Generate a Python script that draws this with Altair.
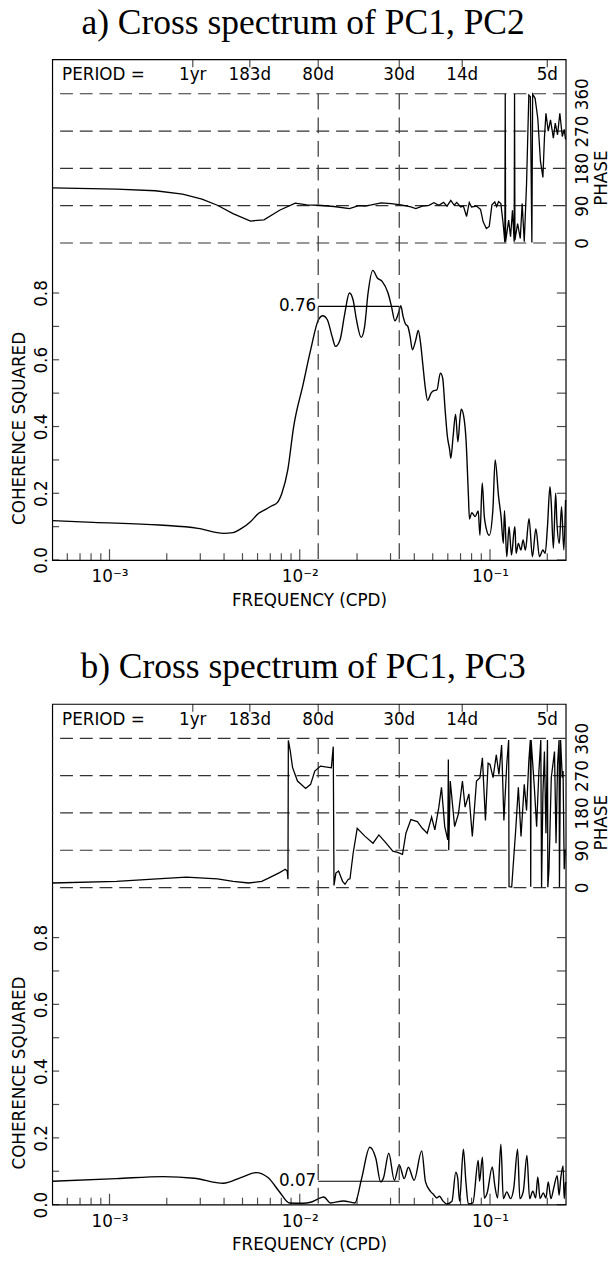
import altair as alt
import pandas as pd

# ---------------- data ----------------
# x values are log10(frequency in cycles per day)
A_COH_LF = [-3.300,-3.086,-2.737,-2.535,-2.400,-2.351,-2.308,-2.259,-2.216,-2.179,-2.149,-2.118,-2.094,-2.063,-2.032,-1.983,-1.941,-1.904,-1.879,-1.855,-1.830,-1.812,-1.788,-1.763,-1.739,-1.720,-1.702,-1.677,-1.659,-1.641,-1.616,-1.592,-1.567,-1.536,-1.518,-1.500,-1.481,-1.469,-1.457,-1.445,-1.432,-1.420,-1.408,-1.390,-1.377,-1.365,-1.353,-1.341,-1.328,-1.310,-1.298,-1.279,-1.261,-1.249,-1.236,-1.224,-1.212,-1.206,-1.194,-1.181,-1.169,-1.157,-1.151,-1.138,-1.126,-1.114,-1.108,-1.096,-1.078,-1.062,-1.053,-1.041,-1.030,-1.022,-1.004,-0.985,-0.973,-0.955,-0.942,-0.930,-0.924,-0.912,-0.900,-0.887,-0.875,-0.869,-0.863,-0.851,-0.838,-0.826,-0.814,-0.795,-0.777,-0.759,-0.740,-0.722,-0.710,-0.698,-0.685,-0.679,-0.667,-0.655,-0.649,-0.636,-0.624,-0.612,-0.603]
A_COH = [0.118,0.113,0.105,0.095,0.080,0.082,0.094,0.115,0.140,0.152,0.162,0.172,0.20,0.27,0.40,0.525,0.634,0.717,0.732,0.72,0.67,0.64,0.66,0.74,0.80,0.78,0.72,0.667,0.70,0.80,0.868,0.845,0.835,0.80,0.76,0.717,0.74,0.762,0.73,0.708,0.70,0.67,0.63,0.66,0.688,0.65,0.585,0.52,0.478,0.50,0.507,0.51,0.56,0.546,0.45,0.37,0.33,0.305,0.37,0.437,0.354,0.43,0.452,0.43,0.36,0.20,0.123,0.142,0.13,0.147,0.074,0.231,0.13,0.10,0.074,0.15,0.30,0.19,0.13,0.05,0.148,0.01,0.10,0.015,0.08,0.10,0.02,0.05,0.03,0.06,0.03,0.124,0.01,0.094,0.01,0.03,0.02,0.10,0.22,0.18,0.035,0.20,0.12,0.05,0.16,0.03,0.18]

A_PH_LF = [-3.300,-2.963,-2.759,-2.616,-2.514,-2.433,-2.351,-2.259,-2.188,-2.106,-2.024,-1.963,-1.902,-1.820,-1.739,-1.690,-1.658,-1.623,-1.572,-1.520,-1.468,-1.416,-1.390,-1.356,-1.321,-1.295,-1.269,-1.244,-1.226,-1.206,-1.188,-1.175,-1.154,-1.140,-1.123,-1.109,-1.097,-1.071,-1.050,-1.036,-1.019,-1.004,-0.990,-0.975,-0.965,-0.955,-0.943,-0.931,-0.922,-0.920,-0.918,-0.902,-0.892,-0.882,-0.873,-0.871,-0.869,-0.855,-0.841,-0.831,-0.820,-0.808,-0.796,-0.788,-0.780,-0.776,-0.763,-0.749,-0.735,-0.722,-0.714,-0.706,-0.694,-0.682,-0.667,-0.657,-0.645,-0.633,-0.620,-0.610,-0.603]
A_PH = [133,130,126,118,106,91,71,53,56,79,96,92,91,88,83,90,89,92,97,95,92,87,83,89,91,97,91,98,89,103,91,98,87,89,64,98,87,89,81,51,35,40,92,99,88,100,95,47,1,360,3,55,15,79,3,360,7,47,11,95,3,142,357,353,1,359,349,301,198,158,253,313,270,297,253,289,261,313,257,274,250]

B_COH_LF = [-3.300,-2.963,-2.718,-2.555,-2.402,-2.310,-2.229,-2.167,-2.106,-2.055,-1.984,-1.943,-1.908,-1.874,-1.839,-1.770,-1.710,-1.675,-1.632,-1.600,-1.575,-1.560,-1.532,-1.503,-1.477,-1.451,-1.429,-1.399,-1.359,-1.339,-1.312,-1.295,-1.280,-1.265,-1.249,-1.226,-1.200,-1.180,-1.170,-1.160,-1.140,-1.127,-1.114,-1.090,-1.062,-1.055,-1.040,-1.030,-1.015,-0.988,-0.975,-0.960,-0.943,-0.930,-0.912,-0.892,-0.875,-0.855,-0.843,-0.825,-0.806,-0.792,-0.775,-0.760,-0.749,-0.737,-0.720,-0.706,-0.694,-0.680,-0.665,-0.647,-0.637,-0.628,-0.616,-0.610,-0.603]
B_COH = [0.070,0.078,0.084,0.079,0.064,0.081,0.096,0.081,0.038,0.005,0.004,0.007,0.016,0.023,0.005,0.011,0.005,0.078,0.172,0.138,0.068,0.08,0.154,0.073,0.119,0.078,0.112,0.073,0.161,0.068,0.039,0.029,0.02,0.025,0.012,0.002,0.01,0.097,0.08,0.01,0.166,0.07,0.002,0.005,0.132,0.07,0.142,0.02,0.035,0.113,0.058,0.02,0.181,0.018,0.038,0.018,0.05,0.166,0.018,0.04,0.147,0.018,0.04,0.02,0.083,0.018,0.035,0.02,0.068,0.018,0.05,0.087,0.028,0.08,0.116,0.018,0.068]

B_PH_LF = [-3.300,-2.963,-2.750,-2.596,-2.433,-2.350,-2.269,-2.200,-2.167,-2.106,-2.076,-2.066,-2.062,-2.060,-2.050,-2.038,-2.012,-1.969,-1.943,-1.921,-1.891,-1.865,-1.834,-1.824,-1.820,-1.810,-1.796,-1.775,-1.762,-1.745,-1.736,-1.719,-1.698,-1.658,-1.615,-1.584,-1.546,-1.511,-1.486,-1.460,-1.442,-1.416,-1.382,-1.356,-1.330,-1.307,-1.290,-1.269,-1.255,-1.238,-1.222,-1.219,-1.217,-1.209,-1.186,-1.166,-1.145,-1.131,-1.111,-1.093,-1.071,-1.053,-1.040,-1.024,-1.010,-1.000,-0.984,-0.967,-0.953,-0.939,-0.927,-0.912,-0.902,-0.900,-0.886,-0.865,-0.851,-0.837,-0.820,-0.808,-0.796,-0.788,-0.786,-0.784,-0.767,-0.755,-0.743,-0.733,-0.729,-0.722,-0.714,-0.706,-0.698,-0.696,-0.690,-0.678,-0.661,-0.653,-0.645,-0.637,-0.635,-0.629,-0.620,-0.616,-0.610,-0.604]
B_PH = [11,15,21,25,21,15,11,15,22,36,44,40,20,355,330,290,257,239,249,281,293,291,289,340,5,35,40,15,8,20,21,84,143,124,107,127,107,88,85,80,131,164,159,143,131,170,139,194,242,147,115,309,90,257,147,178,257,194,226,123,257,265,313,162,300,297,265,320,273,344,162,297,356,2,1,139,242,123,249,186,305,356,2,356,242,147,281,356,1,226,328,131,356,1,44,265,328,107,297,356,1,356,265,281,44,92]

A_LEVEL = 0.76
B_LEVEL = 0.07

PERIOD_DAYS = [365, 183, 80, 30, 14, 5]
PERIOD_TEXT = ["1yr", "183d", "80d", "30d", "14d", "5d"]
BAND_DAYS = [80, 30]
PHASE_GRID = [0, 90, 180, 270, 360]
COH_LABELS = [0.0, 0.2, 0.4, 0.6, 0.8]
COH_TICKS = [0.0, 0.1, 0.2, 0.3, 0.4, 0.5, 0.6, 0.7, 0.8]
FREQ_MAJOR = [0.001, 0.01, 0.1]
FREQ_MINOR = [6e-4, 7e-4, 8e-4, 9e-4, 2e-3, 3e-3, 4e-3, 5e-3, 6e-3, 7e-3, 8e-3, 9e-3,
              2e-2, 3e-2, 4e-2, 5e-2, 6e-2, 7e-2, 8e-2, 9e-2, 2e-1]

X_DOMAIN = [5e-4, 0.25]
COH_DOMAIN = [0.0, 1.5]
PH_DOMAIN = [-765, 443]

W, H = 521, 508
FONT = "DejaVu Sans"
FS = 17


def make_panel(coh_lf, coh, ph_lf, ph, level, title):
    coh_df = pd.DataFrame({"f": [10 ** v for v in coh_lf], "c": coh})
    ph_df = pd.DataFrame({"f": [10 ** v for v in ph_lf], "p": ph})
    per_df = pd.DataFrame({"f": [1.0 / d for d in PERIOD_DAYS], "label": PERIOD_TEXT})
    band_df = pd.DataFrame({"f": [1.0 / d for d in BAND_DAYS]})
    grid_df = pd.DataFrame({"p": PHASE_GRID})
    cticks_df = pd.DataFrame({"c": COH_TICKS})
    major_df = pd.DataFrame({"f": FREQ_MAJOR})
    minor_df = pd.DataFrame({"f": FREQ_MINOR})
    lvl_df = pd.DataFrame({"f": [1.0 / BAND_DAYS[0]], "f2": [1.0 / BAND_DAYS[1]],
                           "c": [level], "label": [f"{level:.2f}"]})
    head_df = pd.DataFrame({"label": ["PERIOD ="]})

    xs = alt.Scale(type="log", domain=X_DOMAIN, nice=False)
    cs = alt.Scale(domain=COH_DOMAIN, nice=False, zero=False)
    ps = alt.Scale(domain=PH_DOMAIN, nice=False, zero=False)

    x_axis = alt.Axis(values=FREQ_MAJOR, orient="bottom",
                      labelExpr="datum.value < 0.005 ? '10⁻³' : (datum.value < 0.05 ? '10⁻²' : '10⁻¹')",
                      tickSize=0, ticks=False, domain=False, grid=False, labelPadding=9,
                      labelFlush=False, labelOverlap=False, title="FREQUENCY (CPD)",
                      titleY=33, titleBaseline="top")
    c_axis = alt.Axis(values=COH_LABELS, format=".1f", orient="left", labelAngle=270,
                      labelAlign="center", labelBaseline="middle", labelPadding=11,
                      tickSize=0, ticks=False, domain=False, grid=False,
                      labelFlush=False, labelOverlap=False,
                      title="COHERENCE SQUARED", titleAngle=270, titleAlign="center",
                      titleBaseline="middle", titleX=-33, titleY=374)
    p_axis = alt.Axis(values=PHASE_GRID, format="d", orient="right", labelAngle=270,
                      labelAlign="center", labelBaseline="middle", labelPadding=17,
                      tickSize=0, ticks=False, domain=False, grid=False,
                      labelFlush=False, labelOverlap=False,
                      title="PHASE", titleAngle=270, titleAlign="center",
                      titleBaseline="middle", titleX=36, titleY=120)

    def X(field):
        return alt.X(field, scale=xs, axis=x_axis)

    def XD(v):
        return alt.XDatum(v, scale=xs, axis=x_axis)

    def YC(field):
        return alt.Y(field, scale=cs, axis=c_axis)

    def YCD(v):
        return alt.YDatum(v, scale=cs, axis=c_axis)

    def YP(field):
        return alt.Y(field, scale=ps, axis=p_axis)

    def YPD(v):
        return alt.YDatum(v, scale=ps, axis=p_axis)

    coh_line = alt.Chart(coh_df).mark_line(color="black", strokeWidth=1.4,
                                           interpolate="monotone").encode(
        x=X("f:Q"), y=YC("c:Q"))
    lvl_rule = alt.Chart(lvl_df).mark_rule(color="black", strokeWidth=1.1).encode(
        x=X("f:Q"), x2="f2:Q", y=YC("c:Q"))
    lvl_text = alt.Chart(lvl_df).mark_text(align="right", baseline="middle", dx=-2,
                                           font=FONT, fontSize=FS, color="black").encode(
        x=X("f:Q"), y=YC("c:Q"), text="label:N")
    per_text = alt.Chart(per_df).mark_text(baseline="alphabetic", dy=21, font=FONT,
                                           fontSize=FS, color="black").encode(
        x=X("f:Q"), y=YCD(COH_DOMAIN[1]), text="label:N")
    per_head = alt.Chart(head_df).mark_text(align="left", baseline="alphabetic",
                                            dx=10, dy=21, font=FONT, fontSize=FS,
                                            color="black").encode(
        x=XD(X_DOMAIN[0]), y=YCD(COH_DOMAIN[1]), text="label:N")
    per_ticks = alt.Chart(per_df).mark_tick(orient="vertical", size=8, yOffset=4,
                                            thickness=1.2, color="black").encode(
        x=X("f:Q"), y=YCD(COH_DOMAIN[1]))
    maj_ticks = alt.Chart(major_df).mark_tick(orient="vertical", size=11, yOffset=-5.5,
                                              thickness=1.2, color="black").encode(
        x=X("f:Q"), y=YCD(COH_DOMAIN[0]))
    min_ticks = alt.Chart(minor_df).mark_tick(orient="vertical", size=7, yOffset=-3.5,
                                              thickness=1.2, color="black").encode(
        x=X("f:Q"), y=YCD(COH_DOMAIN[0]))
    left_ticks = alt.Chart(cticks_df).mark_tick(orient="horizontal", size=7, xOffset=3.5,
                                                thickness=1.2, color="black").encode(
        x=XD(X_DOMAIN[0]), y=YC("c:Q"))
    right_ticks = alt.Chart(cticks_df).mark_tick(orient="horizontal", size=9, xOffset=-4.5,
                                                 thickness=1.2, color="black").encode(
        x=XD(X_DOMAIN[1]), y=YC("c:Q"))

    coh_group = alt.layer(coh_line, lvl_rule, lvl_text, per_text, per_head, per_ticks,
                          maj_ticks, min_ticks, left_ticks, right_ticks)

    grid = alt.Chart(grid_df).mark_rule(color="#333333", strokeWidth=1.2,
                                        strokeDash=[13, 7]).encode(y=YP("p:Q"))
    bands = alt.Chart(band_df).mark_rule(color="#333333", strokeWidth=1.2,
                                         strokeDash=[16, 8]).encode(
        x=X("f:Q"), y=YPD(PHASE_GRID[-1]), y2=alt.datum(PH_DOMAIN[0]))
    ph_line = alt.Chart(ph_df).mark_line(color="black", strokeWidth=1.3).encode(
        x=X("f:Q"), y=YP("p:Q"))
    ph_group = alt.layer(grid, bands, ph_line)

    return alt.layer(coh_group, ph_group).resolve_scale(y="independent").properties(
        width=W, height=H,
        title=alt.TitleParams(title, font="Liberation Serif", fontSize=36,
                              fontWeight="normal", color="black", anchor="middle",
                              baseline="alphabetic", offset=-10, dx=-6),
    )


panel_a = make_panel(A_COH_LF, A_COH, A_PH_LF, A_PH, A_LEVEL, "a) Cross spectrum of PC1, PC2")
panel_b = make_panel(B_COH_LF, B_COH, B_PH_LF, B_PH, B_LEVEL, "b) Cross spectrum of PC1, PC3")

chart = alt.vconcat(panel_a, panel_b, spacing=40).properties(
    padding={"left": 10, "top": -5, "right": 5, "bottom": 0},
    background="white",
).configure_axis(
    labelFont=FONT, labelFontSize=FS, labelColor="black",
    titleFont=FONT, titleFontSize=FS, titleColor="black", titleFontWeight="normal",
).configure_view(stroke="black", strokeWidth=1.2)

chart.save("out.html", embed_options={"renderer": "svg", "actions": False})
